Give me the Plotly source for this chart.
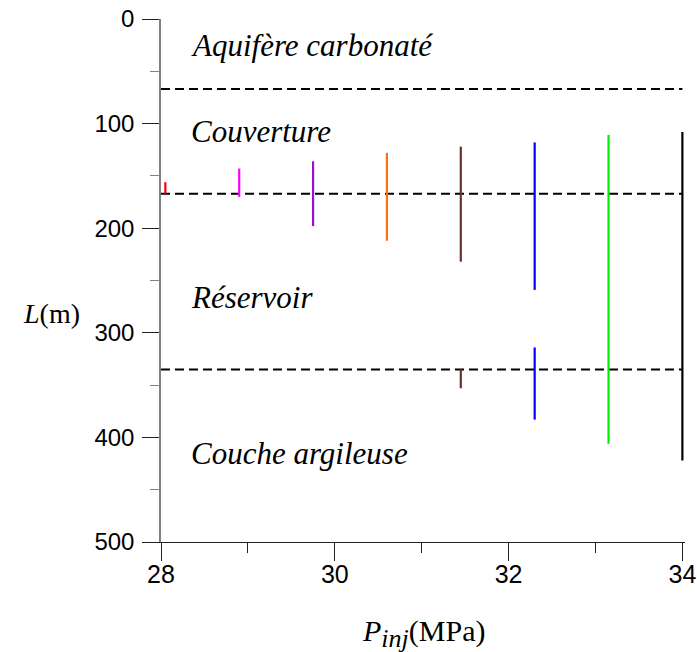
import plotly.graph_objects as go

# Injection pressure (MPa) of each run and the depth span (m) of the plume
pressures = [28.05, 28.9, 29.75, 30.6, 31.45, 32.3, 33.15, 34.0]
tops = [156, 143, 136, 128, 122, 118, 111, 108]
bottoms = [167, 170, 198, 212, 232, 259, 406, 422]
colors = ["#ff0000", "#ff00ff", "#9a10d0", "#ff7010", "#6b3030", "#0000ff", "#00ee00", "#000000"]

# second, separate pieces below the lower interface
lower_pressures = [31.45, 32.3]
lower_tops = [335, 314]
lower_bottoms = [353, 383]
lower_colors = ["#6b3030", "#0000ff"]

# layer interfaces (m)
interfaces = [67, 167, 335]

# layer names and where they are written
layer_names = ["Aquifère carbonaté", "Couverture", "Réservoir", "Couche argileuse"]
layer_x = [28.32, 28.32, 28.32, 28.32]
layer_y = [25, 108, 266, 415]

figure = go.Figure()

# Dashed interfaces
for depth in interfaces:
    figure.add_trace(
        go.Scatter(
            x=[28, 34],
            y=[depth, depth],
            mode="lines",
            line=dict(color="black", width=2, dash="9px,5px"),
            showlegend=False,
            hoverinfo="skip"
        )
    )

# Plume extent at each pressure
for p, top, bottom, color in zip(pressures, tops, bottoms, colors):
    figure.add_trace(
        go.Scatter(
            x=[p, p],
            y=[top, bottom],
            mode="lines",
            line=dict(color=color, width=2.2),
            showlegend=False
        )
    )

for p, top, bottom, color in zip(lower_pressures, lower_tops, lower_bottoms, lower_colors):
    figure.add_trace(
        go.Scatter(
            x=[p, p],
            y=[top, bottom],
            mode="lines",
            line=dict(color=color, width=2.2),
            showlegend=False
        )
    )

# Layer labels
for name, lx, ly in zip(layer_names, layer_x, layer_y):
    figure.add_annotation(
        x=lx,
        y=ly,
        xref="x",
        yref="y",
        text=f"<i>{name}</i>",
        showarrow=False,
        xanchor="left",
        yanchor="middle",
        font=dict(family="Liberation Serif", size=31, color="black")
    )

# Axis titles
figure.add_annotation(
    x=-0.268,
    y=0.437,
    xref="paper",
    yref="paper",
    text="<i>L</i>(m)",
    showarrow=False,
    xanchor="left",
    yanchor="middle",
    font=dict(family="Liberation Serif", size=28, color="black")
)

figure.add_annotation(
    x=0.5,
    y=-0.175,
    xref="paper",
    yref="paper",
    text="<i>P</i><sub><i><span style='font-size:26px'>inj</span></i></sub>(MPa)",
    showarrow=False,
    xanchor="center",
    yanchor="middle",
    font=dict(family="Liberation Serif", size=30, color="black")
)

figure.update_layout(
    width=697,
    height=652,
    margin=dict(l=161, r=12, t=19, b=110, autoexpand=False),
    paper_bgcolor="white",
    plot_bgcolor="white",
    showlegend=False
)

figure.update_xaxes(
    range=[28, 34.03],
    tickvals=[28, 30, 32, 34],
    ticks="outside",
    ticklen=18,
    tickcolor="#222222",
    showline=True,
    linecolor="#222222",
    linewidth=1,
    showgrid=False,
    zeroline=False,
    ticklabelstandoff=-8,
    ticklabeloverflow="allow",
    tickfont=dict(family="Liberation Sans", size=25, color="black"),
    minor=dict(tickvals=[29, 31, 33], ticks="outside", ticklen=10, tickcolor="#222222")
)

figure.update_yaxes(
    range=[500, 0],
    tickvals=[0, 100, 200, 300, 400, 500],
    ticks="outside",
    ticklen=17,
    tickcolor="#222222",
    showline=True,
    linecolor="#808080",
    linewidth=1.5,
    showgrid=False,
    zeroline=False,
    ticklabelstandoff=3,
    ticklabeloverflow="allow",
    tickfont=dict(family="Liberation Sans", size=24, color="black"),
    minor=dict(tickvals=[50, 150, 250, 350, 450], ticks="outside", ticklen=9, tickcolor="#808080")
)

# drop the default 8px body margin so the figure fills the window exactly
figure.write_html(
    "out.html",
    config={"displayModeBar": False},
    post_script="document.body.style.margin = '0';"
)
